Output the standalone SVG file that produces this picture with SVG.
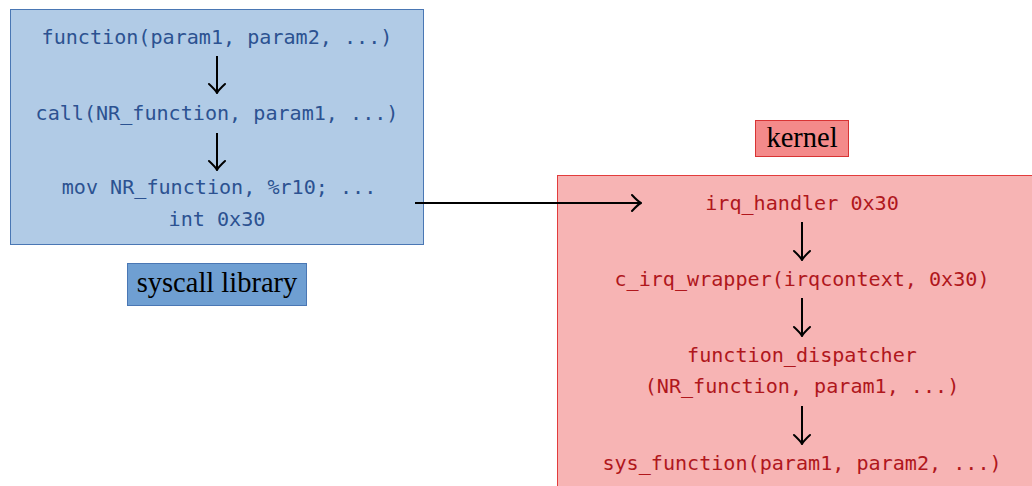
<svg xmlns="http://www.w3.org/2000/svg" width="1032" height="486" viewBox="0 0 1032 486">
  <style>
    .code { font-family: "DejaVu Sans Mono", "Liberation Mono", monospace; font-size: 20.1px; text-anchor: middle; }
    .user { fill: #2c5291; }
    .kern { fill: #b0171c; }
    .label { font-family: "Liberation Serif", "DejaVu Serif", serif; font-size: 28.5px; fill: #000; text-anchor: middle; }
    .flow { stroke: #000; stroke-width: 2; fill: none; }
  </style>
  <defs>
    <marker id="head" viewBox="-10 -10 12 20" markerWidth="12" markerHeight="20" refX="0" refY="0" orient="auto" markerUnits="userSpaceOnUse">
      <path d="M -8 -8 Q -2 -1.5 1 0 Q -2 1.5 -8 8" fill="none" stroke="#000" stroke-width="2" stroke-linecap="round"/>
    </marker>
  </defs>

  <!-- user space: syscall library -->
  <g id="syscall-library">
    <rect x="10.5" y="9.5" width="413" height="235" fill="#b1cbe6" stroke="#4a77b4" stroke-width="1"/>
    <text class="code user" x="217" y="44">function(param1, param2, ...)</text>
    <text class="code user" x="217" y="120">call(NR_function, param1, ...)</text>
    <text class="code user" x="219" y="194">mov NR_function, %r10; ...</text>
    <text class="code user" x="217" y="226">int 0x30</text>
  </g>
  <g id="syscall-library-label">
    <rect x="127.5" y="263.5" width="179" height="42" fill="#6f9fd2" stroke="#4a77b4" stroke-width="1"/>
    <text class="label" x="217" y="292">syscall library</text>
  </g>

  <!-- kernel space -->
  <g id="kernel">
    <rect x="557.5" y="175.5" width="480" height="320" fill="#f7b4b4" stroke="#e23c3c" stroke-width="1"/>
    <text class="code kern" x="802" y="210">irq_handler 0x30</text>
    <text class="code kern" x="802" y="286">c_irq_wrapper(irqcontext, 0x30)</text>
    <text class="code kern" x="802" y="362">function_dispatcher</text>
    <text class="code kern" x="802" y="393">(NR_function, param1, ...)</text>
    <text class="code kern" x="802" y="470">sys_function(param1, param2, ...)</text>
  </g>
  <g id="kernel-label">
    <rect x="755.5" y="120.5" width="93" height="36" fill="#f48a8a" stroke="#d83434" stroke-width="1"/>
    <text class="label" x="802" y="147">kernel</text>
  </g>

  <!-- connectors -->
  <g id="connectors">
    <line class="flow" x1="217" y1="56" x2="217" y2="92" marker-end="url(#head)"/>
    <line class="flow" x1="217" y1="133" x2="217" y2="169" marker-end="url(#head)"/>
    <line class="flow" x1="415" y1="203" x2="640" y2="203" marker-end="url(#head)"/>
    <line class="flow" x1="802" y1="222" x2="802" y2="259" marker-end="url(#head)"/>
    <line class="flow" x1="802" y1="298" x2="802" y2="335" marker-end="url(#head)"/>
    <line class="flow" x1="802" y1="406" x2="802" y2="443" marker-end="url(#head)"/>
  </g>
</svg>
